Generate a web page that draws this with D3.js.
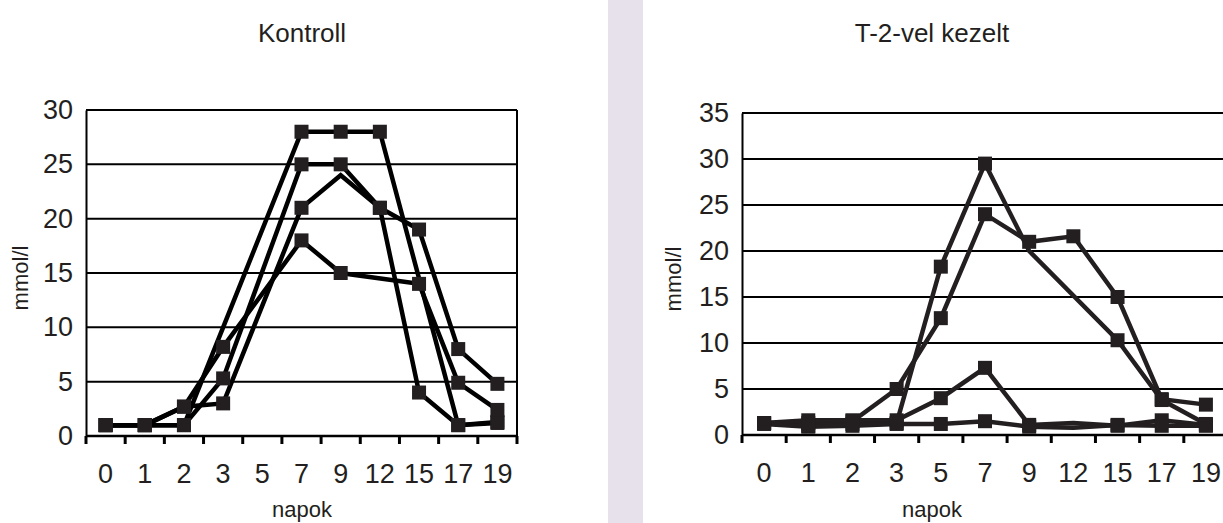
<!DOCTYPE html>
<html><head><meta charset="utf-8">
<script src="https://cdn.jsdelivr.net/npm/d3@7/dist/d3.min.js"></script>
<style>
html,body{margin:0;padding:0;background:#fff;}
svg{display:block;font-family:"Liberation Sans",Arial,Helvetica,sans-serif;}
</style></head>
<body>
<svg id="chart" width="1223" height="523"></svg>
<script>
// ---- data ----
const days = ["0","1","2","3","5","7","9","12","15","17","19"];
const yTicksKontroll = [0,5,10,15,20,25,30];
const yTicksKezelt = [0,5,10,15,20,25,30,35];

// Kontroll (mmol/l), null = not measured
const kontrollA = [1.0, 1.0, 1.0, null, null, 28.0, 28.0, 28.0, null, 1.0, 1.2];
const kontrollB = [1.0, 1.0, 1.0, 5.3, null, 25.0, 25.0, 21.0, 4.0, 1.0, 1.3];
const kontrollC = [1.0, 1.0, 2.7, 3.0, null, 21.0, 24.0, 21.0, 19.0, 8.0, 4.8];
const kontrollD = [1.0, 1.0, 2.7, 8.2, null, 18.0, 15.0, null, 14.0, 4.9, 2.4];
// points drawn without a marker: [series, day index]
const kontrollNoMarker = [[2, 6]];

// T-2-vel kezelt (mmol/l)
const kezeltA = [1.3, 1.3, 1.5, 5.0, 12.7, 24.0, 21.0, 21.6, 15.0, 3.9, 3.3];
const kezeltB = [1.3, 1.0, 1.2, 1.3, 18.3, 29.5, 20.0, null, 10.3, 3.8, 1.2];
const kezeltC = [1.3, 1.6, 1.6, 1.6, 4.0, 7.3, 1.1, 1.3, 1.0, 1.6, 1.1];
const kezeltD = [1.2, 0.9, 1.0, 1.2, 1.2, 1.5, 0.9, 0.8, 1.1, 1.0, 1.0];
const kezeltNoMarker = [[1, 6], [2, 7], [3, 7]];

const titleKontroll = "Kontroll";
const titleKezelt = "T-2-vel kezelt";
const xLabel = "napok";
const yLabel = "mmol/l";

// ---- drawing ----
const svg = d3.select("#chart");
const ink = "#231f20";

// separator band
svg.append("rect").attr("x", 608).attr("y", 0).attr("width", 35).attr("height", 523).attr("fill", "#e6e1ea");

function panel(cfg) {
  const g = svg.append("g");
  const x = d3.scaleBand().domain(days).range([cfg.x0, cfg.x1]);
  const y = d3.scaleLinear().domain([0, cfg.yMax]).range([cfg.y0, cfg.y1]);

  // gridlines
  g.selectAll("line.grid").data(cfg.yTicks.filter(t => t > 0)).join("line")
    .attr("x1", cfg.x0).attr("x2", cfg.x1)
    .attr("y1", d => y(d)).attr("y2", d => y(d))
    .attr("stroke", "#000").attr("stroke-width", 2);

  // frame right edge
  if (cfg.frameRight) {
    g.append("line").attr("x1", cfg.x1).attr("x2", cfg.x1).attr("y1", y(cfg.yMax)).attr("y2", y(0))
      .attr("stroke", "#000").attr("stroke-width", 2);
  }

  // y axis
  const yAxis = d3.axisLeft(y).tickValues(cfg.yTicks).tickSize(0).tickPadding(13);
  const ya = g.append("g").attr("transform", `translate(${cfg.x0},0)`).call(yAxis);
  ya.select(".domain").attr("stroke", "#000").attr("stroke-width", 2);
  ya.selectAll("text").attr("font-size", 27).attr("fill", ink).attr("font-family", "Liberation Sans, Arial, sans-serif");

  // x axis with ticks at band boundaries
  const xa = g.append("g").attr("transform", `translate(0,${y(0)})`);
  xa.append("line").attr("x1", cfg.x0).attr("x2", cfg.x1).attr("stroke", "#000").attr("stroke-width", 2.5);
  const bounds = days.map(d => x(d)).concat([x(days[days.length - 1]) + x.bandwidth()]);
  xa.selectAll("line.tk").data(bounds).join("line")
    .attr("x1", d => d).attr("x2", d => d).attr("y1", 0).attr("y2", 8)
    .attr("stroke", "#000").attr("stroke-width", 3);
  xa.selectAll("text").data(days).join("text")
    .attr("x", d => x(d) + x.bandwidth() / 2).attr("y", 47)
    .attr("text-anchor", "middle").attr("font-size", 27).attr("fill", ink).text(d => d);

  // series
  const line = d3.line().x(p => x(p.day) + x.bandwidth() / 2).y(p => y(p.v));
  cfg.series.forEach((vals, si) => {
    const pts = vals.map((v, i) => ({ day: days[i], v, i })).filter(p => p.v !== null);
    g.append("path").attr("d", line(pts)).attr("fill", "none")
      .attr("stroke", cfg.lineColor).attr("stroke-width", 4.5).attr("stroke-linejoin", "miter");
  });
  cfg.series.forEach((vals, si) => {
    const pts = vals.map((v, i) => ({ day: days[i], v, i }))
      .filter(p => p.v !== null && !cfg.noMarker.some(h => h[0] === si && h[1] === p.i));
    g.selectAll(null).data(pts).join("rect")
      .attr("x", p => x(p.day) + x.bandwidth() / 2 - 7)
      .attr("y", p => y(p.v) - 7)
      .attr("width", 14).attr("height", 14).attr("fill", ink);
  });

  // titles and labels
  svg.append("text").attr("x", cfg.titleX).attr("y", 42).attr("text-anchor", "middle")
    .attr("font-size", 26).attr("fill", ink).text(cfg.title);
  svg.append("text").attr("x", cfg.titleX).attr("y", 517).attr("text-anchor", "middle")
    .attr("font-size", 22).attr("fill", ink).text(xLabel);
  svg.append("text").attr("transform", `translate(${cfg.yLabelX},${cfg.yLabelY}) rotate(-90)`)
    .attr("text-anchor", "middle").attr("font-size", 22).attr("fill", ink).text(yLabel);
}

panel({
  x0: 86, x1: 517, y0: 436, y1: 110, yMax: 30, yTicks: yTicksKontroll,
  series: [kontrollA, kontrollB, kontrollC, kontrollD], noMarker: kontrollNoMarker,
  lineColor: "#000", frameRight: true, title: titleKontroll, titleX: 302,
  yLabelX: 28, yLabelY: 278
});
panel({
  x0: 742, x1: 1228, y0: 435, y1: 113, yMax: 35, yTicks: yTicksKezelt,
  series: [kezeltA, kezeltB, kezeltC, kezeltD], noMarker: kezeltNoMarker,
  lineColor: ink, frameRight: false, title: titleKezelt, titleX: 932,
  yLabelX: 681, yLabelY: 279
});
</script>
</body></html>
